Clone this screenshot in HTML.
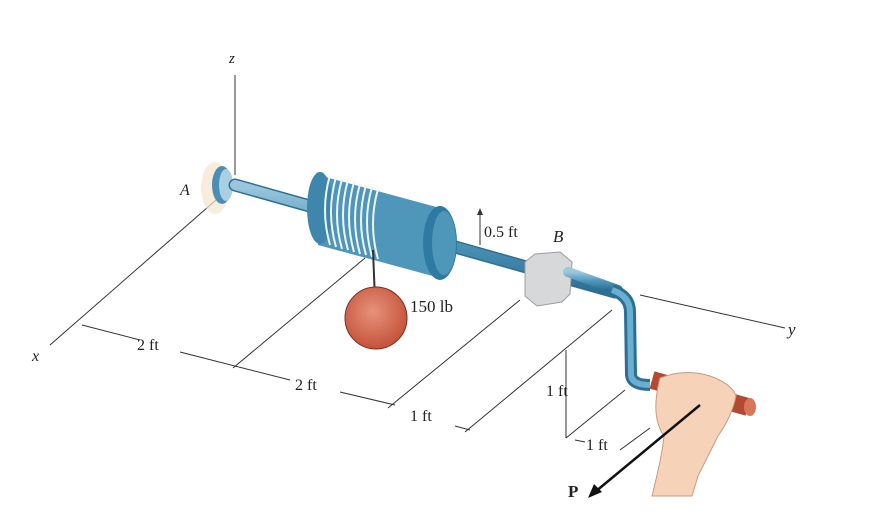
<!DOCTYPE html>
<html><head><meta charset="utf-8"><style>
html,body{margin:0;padding:0;background:#fff;}
svg{display:block;}
text{font-family:"Liberation Serif",serif;fill:#222;}
</style></head><body>
<svg width="871" height="524" viewBox="0 0 871 524" xmlns="http://www.w3.org/2000/svg">
<defs>
<linearGradient id="sh" x1="0" y1="0" x2="0" y2="1"><stop offset="0" stop-color="#9cc8de"/><stop offset="0.5" stop-color="#4f96bb"/><stop offset="1" stop-color="#2d6f93"/></linearGradient>
<radialGradient id="ball" cx="0.45" cy="0.4" r="0.6"><stop offset="0" stop-color="#e8917a"/><stop offset="1" stop-color="#c4533a"/></radialGradient>
</defs>
<g stroke="#333" stroke-width="1" fill="none">
<line x1="235" y1="75" x2="235" y2="175"/>
<line x1="216" y1="200" x2="50" y2="345"/>
<line x1="640" y1="295" x2="785" y2="328"/>
<line x1="233" y1="368" x2="365" y2="258"/>
<line x1="388" y1="408" x2="520" y2="300"/>
<line x1="465" y1="432" x2="612" y2="310"/>
<line x1="566" y1="350" x2="566" y2="438"/>
<line x1="566" y1="438" x2="625" y2="390"/>
<line x1="82" y1="325" x2="140" y2="340"/>
<line x1="180" y1="352" x2="290" y2="380"/>
<line x1="340" y1="392" x2="395" y2="405"/>
<line x1="455" y1="426" x2="470" y2="430"/>
<line x1="575" y1="440" x2="585" y2="442"/>
<line x1="480" y1="210" x2="480" y2="245"/>
<line x1="620" y1="450" x2="650" y2="428"/>
</g>
<polygon points="480,208 477,215 483,215" fill="#333"/>
<ellipse cx="215" cy="188" rx="14" ry="26" fill="#f3e6cf" opacity="0.7"/>
<ellipse cx="222" cy="185" rx="10" ry="19" fill="#4a8fb3"/>
<ellipse cx="226" cy="185" rx="7" ry="16" fill="#a9d0e2"/>
<line x1="235" y1="185" x2="615" y2="292" stroke="#2d6f93" stroke-width="13" stroke-linecap="round"/>
<line x1="235" y1="185" x2="615" y2="292" stroke="url(#sh)" stroke-width="10" stroke-linecap="round"/>
<polygon points="318,175 440,208 440,278 318,245" fill="#4f96bb"/>
<ellipse cx="320" cy="208" rx="13" ry="36" fill="#3f86ad"/>
<g stroke="#eef4f8" stroke-width="2" fill="none">
<path d="M330 175 q-10 35 0 70"/><path d="M336 177 q-10 35 0 70"/><path d="M342 179 q-10 35 0 70"/><path d="M348 180 q-10 35 0 70"/><path d="M354 182 q-10 35 0 70"/><path d="M360 184 q-10 35 0 70"/><path d="M366 185 q-10 35 0 70"/><path d="M372 187 q-10 35 0 70"/><path d="M378 189 q-10 35 0 70"/>
</g>
<ellipse cx="440" cy="243" rx="17" ry="37" fill="#2f7aa3"/>
<ellipse cx="444" cy="243" rx="12" ry="32" fill="#4f96bb"/>
<line x1="373" y1="250" x2="375" y2="300" stroke="#333" stroke-width="2"/>
<circle cx="376" cy="318" r="31" fill="url(#ball)" stroke="#7a2e1e" stroke-width="1"/>
<path d="M525 262 l10 -8 l25 -2 l12 10 l-2 32 l-8 8 l-25 4 l-12 -10 z" fill="#d6d8da" stroke="#9a9ea2"/>
<line x1="568" y1="272" x2="618" y2="290" stroke="url(#sh)" stroke-width="10" stroke-linecap="round"/>
<path d="M612 290 Q630 296 630 312 L631 375 Q632 385 650 385" stroke="#2d6f93" stroke-width="12" fill="none" stroke-linejoin="round"/>
<path d="M612 290 Q630 296 630 312 L631 375 Q632 385 650 385" stroke="#6aaed0" stroke-width="6" fill="none"/>
<line x1="652" y1="380" x2="748" y2="407" stroke="#b24a32" stroke-width="18"/>
<ellipse cx="750" cy="407" rx="6" ry="9" fill="#d8765a"/>
<path d="M660 378 q25 -10 50 -2 q22 8 26 20 q-4 20 -18 40 q-10 20 -20 40 l-6 20 l-40 0 q10 -40 12 -60 q-14 -20 -4 -58 z" fill="#f6d2b8" stroke="#c89a80" stroke-width="1"/>
<line x1="700" y1="405" x2="595" y2="492" stroke="#111" stroke-width="2.5"/>
<polygon points="588,498 594,484 602,492" fill="#111"/>
<text x="229" y="63" font-size="15" font-style="italic">z</text>
<text x="180" y="195" font-size="16" font-style="italic">A</text>
<text x="32" y="361" font-size="16" font-style="italic">x</text>
<text x="788" y="335" font-size="17" font-style="italic">y</text>
<text x="484" y="237" font-size="16">0.5 ft</text>
<text x="553" y="242" font-size="17" font-style="italic">B</text>
<text x="410" y="312" font-size="17">150 lb</text>
<text x="137" y="350" font-size="16">2 ft</text>
<text x="295" y="390" font-size="16">2 ft</text>
<text x="410" y="421" font-size="16">1 ft</text>
<text x="546" y="396" font-size="16">1 ft</text>
<text x="586" y="450" font-size="16">1 ft</text>
<text x="568" y="497" font-size="17" font-weight="bold">P</text>
</svg>
</body></html>
